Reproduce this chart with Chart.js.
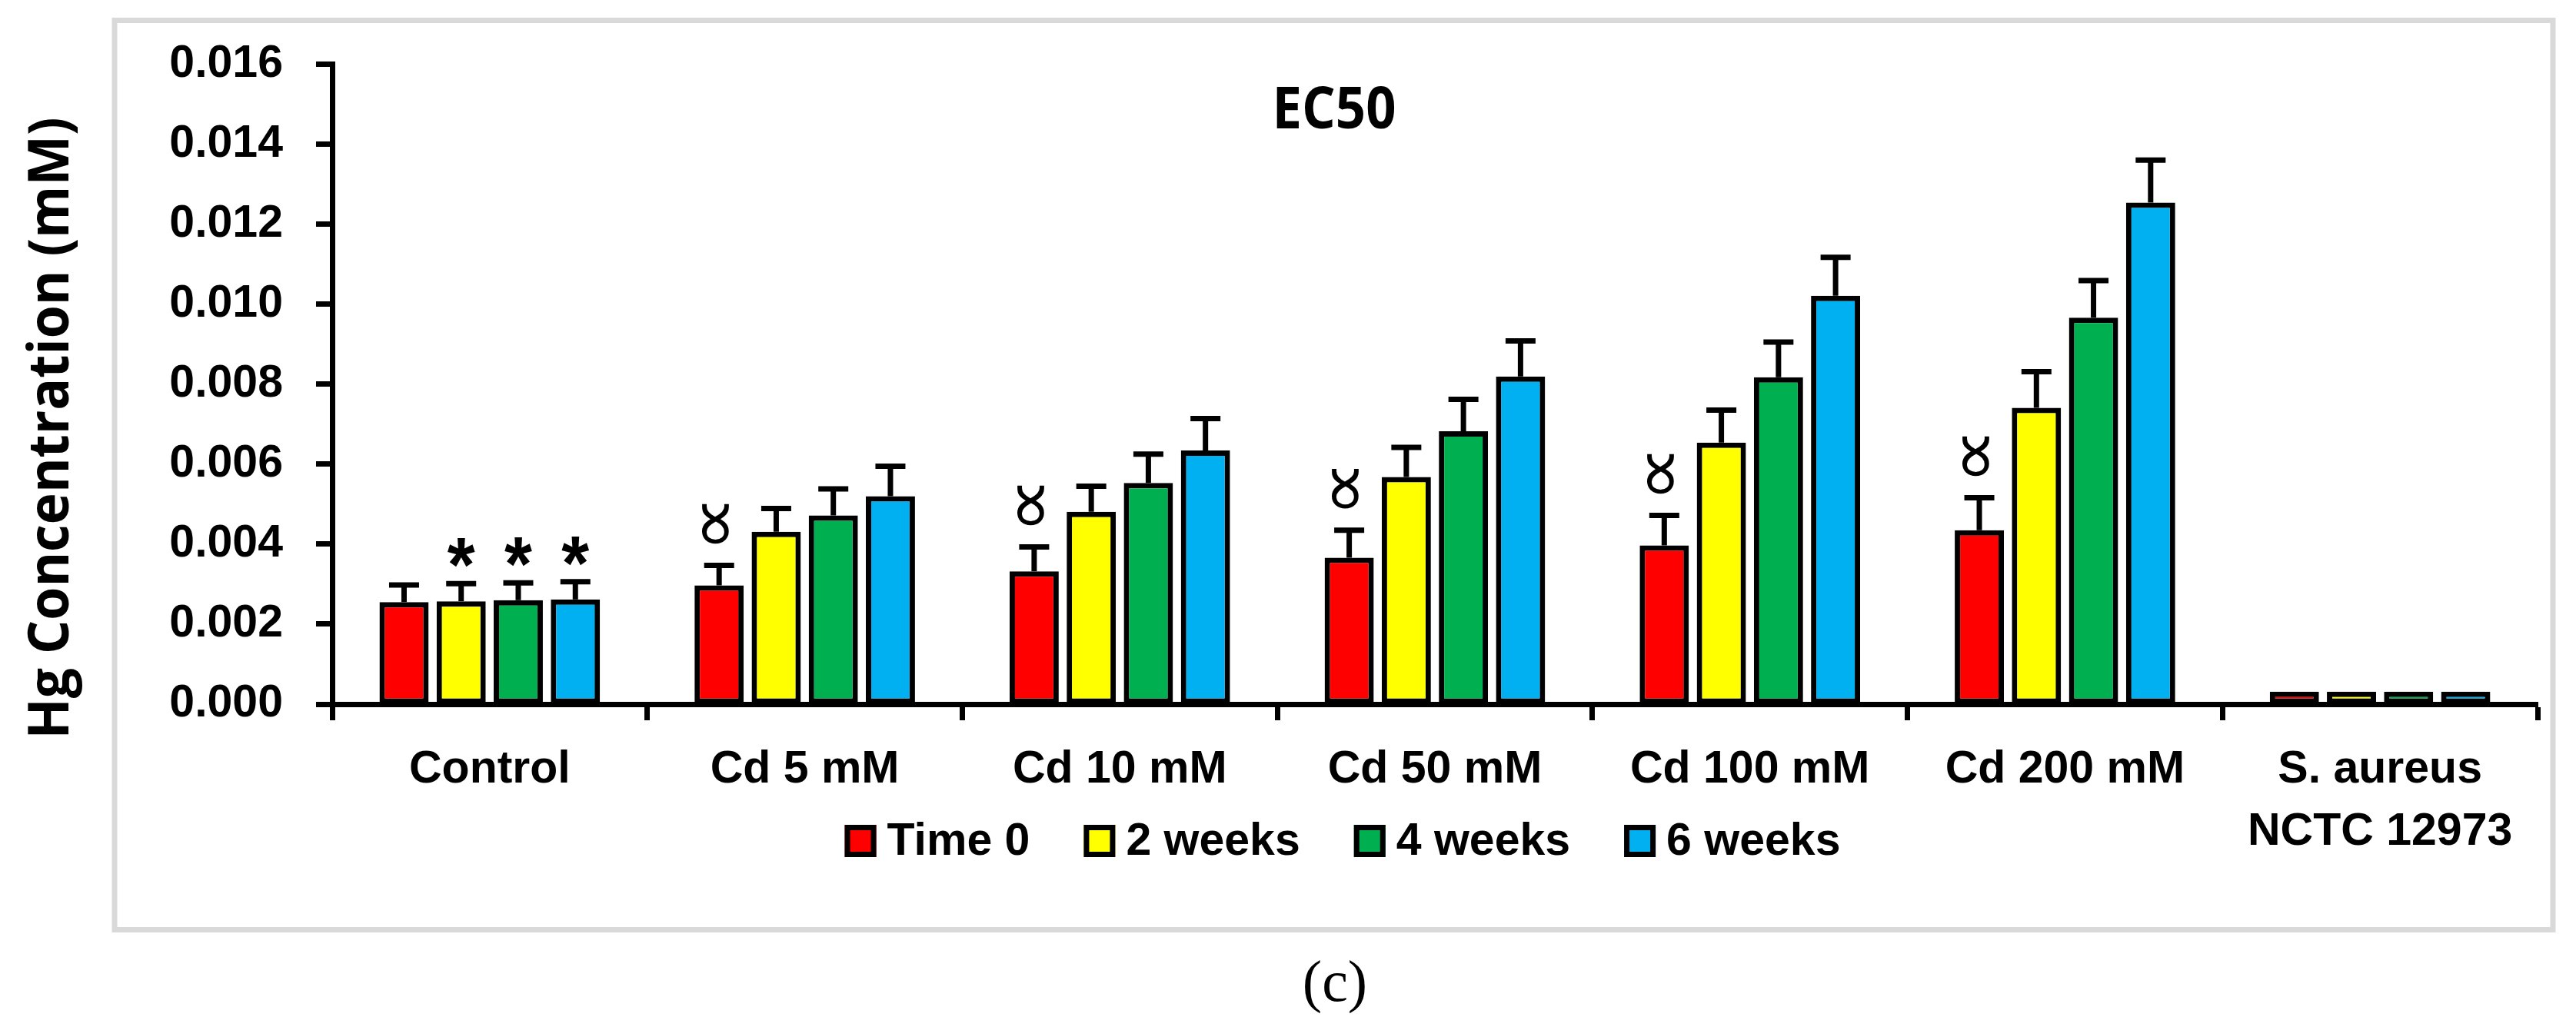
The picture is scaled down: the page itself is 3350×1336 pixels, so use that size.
<!DOCTYPE html>
<html>
<head>
<meta charset="utf-8">
<title>EC50</title>
<script src="https://cdn.jsdelivr.net/npm/chart.js@4.4.1/dist/chart.umd.min.js"></script>
<style>
  html, body { margin: 0; padding: 0; background: #fff; }
  #wrap { width: 3350px; height: 1336px; position: relative; }
</style>
</head>
<body>
<div id="wrap"><canvas id="chart"></canvas></div>
<script>
// values (mM)
const categories = ['Control', 'Cd 5 mM', 'Cd 10 mM', 'Cd 50 mM', 'Cd 100 mM', 'Cd 200 mM', ['S. aureus', 'NCTC 12973']];
const seriesNames = ['Time 0', '2 weeks', '4 weeks', '6 weeks'];
const seriesColors = ['#ff0000', '#ffff00', '#00b050', '#00b0f0'];

const time0 = [0.00255, 0.00297, 0.00332, 0.00366, 0.00397, 0.00435, 0.00031];
const weeks2 = [0.00257, 0.00431, 0.00481, 0.00568, 0.00654, 0.00741, 0.00031];
const weeks4 = [0.00260, 0.00472, 0.00553, 0.00682, 0.00817, 0.00966, 0.00031];
const weeks6 = [0.00262, 0.00520, 0.00634, 0.00819, 0.01021, 0.01254, 0.00031];

// upper error bars
const err0 = [0.00043, 0.00050, 0.00061, 0.00069, 0.00075, 0.00081, 0];
const err2 = [0.00044, 0.00058, 0.00064, 0.00074, 0.00081, 0.00090, 0];
const err4 = [0.00043, 0.00066, 0.00072, 0.00080, 0.00088, 0.00093, 0];
const err6 = [0.00044, 0.00075, 0.00080, 0.00089, 0.00096, 0.00106, 0];

const yTicks = [0, 0.002, 0.004, 0.006, 0.008, 0.010, 0.012, 0.014, 0.016];

// significance marks: [category index, series index]
const starMarks = [[0, 1], [0, 2], [0, 3]];
const propMarks = [[1, 0], [2, 0], [3, 0], [4, 0], [5, 0]];

const values = [time0, weeks2, weeks4, weeks6];
const errors = [err0, err2, err4, err6];

function drawGlyph(ctx, text, font, cx, cy, w, h, angle) {
  ctx.save();
  ctx.font = font;
  const m = ctx.measureText(text);
  const L = m.actualBoundingBoxLeft, R = m.actualBoundingBoxRight;
  const A = m.actualBoundingBoxAscent, D = m.actualBoundingBoxDescent;
  ctx.translate(cx, cy);
  ctx.rotate(angle);
  const sx = (angle ? h : w) / (L + R);
  const sy = (angle ? w : h) / (A + D);
  ctx.scale(sx, sy);
  ctx.textAlign = 'left';
  ctx.textBaseline = 'alphabetic';
  ctx.fillStyle = '#000';
  ctx.fillText(text, (L - R) / 2, (A - D) / 2);
  ctx.restore();
}

const decorations = {
  id: 'decorations',
  beforeDraw(chart) {
    const ctx = chart.ctx;
    ctx.save();
    ctx.strokeStyle = '#d9d9d9';
    ctx.lineWidth = 7;
    ctx.strokeRect(149, 26.5, 3171, 1183);
    ctx.restore();
  },
  afterDatasetsDraw(chart) {
    const ctx = chart.ctx;
    const y = chart.scales.y;
    ctx.save();
    ctx.strokeStyle = '#000';
    ctx.lineWidth = 7;
    chart.data.datasets.forEach((ds, di) => {
      chart.getDatasetMeta(di).data.forEach((bar, i) => {
        const e = errors[di][i];
        if (!e) return;
        const top = y.getPixelForValue(ds.data[i]);
        const end = y.getPixelForValue(ds.data[i] + e);
        ctx.beginPath();
        ctx.moveTo(bar.x, top);
        ctx.lineTo(bar.x, end);
        ctx.moveTo(bar.x - 19.5, end);
        ctx.lineTo(bar.x + 19.5, end);
        ctx.stroke();
      });
    });
    ctx.restore();

    const capPx = (ci, si) => y.getPixelForValue(values[si][ci] + errors[si][ci]);
    starMarks.forEach(([ci, si]) => {
      const bar = chart.getDatasetMeta(si).data[ci];
      drawGlyph(ctx, '*', 'bold 100px "Liberation Sans"', bar.x, capPx(ci, si) - 40, 36, 38, 0);
    });
    propMarks.forEach(([ci, si]) => {
      const bar = chart.getDatasetMeta(si).data[ci];
      drawGlyph(ctx, '\u221D', '70px "DejaVu Sans"', bar.x - 5, capPx(ci, si) - 54, 37, 53, -Math.PI / 2);
    });
  },
  afterDraw(chart) {
    const ctx = chart.ctx;
    ctx.save();
    ctx.fillStyle = '#000';

    // chart title
    ctx.font = 'bold 76px "Open Sans"';
    let m = ctx.measureText('EC50');
    let capH = ctx.measureText('E').actualBoundingBoxAscent;
    ctx.save();
    ctx.translate(1735, 140 + capH / 2);
    ctx.scale(161 / m.width, 1);
    ctx.textAlign = 'center';
    ctx.fillText('EC50', 0, 0);
    ctx.restore();

    // y axis title
    const yTitle = 'Hg Concentration (mM)';
    ctx.font = 'bold 73px "Open Sans"';
    m = ctx.measureText(yTitle);
    capH = ctx.measureText('H').actualBoundingBoxAscent;
    ctx.save();
    ctx.translate(62.5, 557);
    ctx.rotate(-Math.PI / 2);
    ctx.scale(809 / m.width, 1);
    ctx.textAlign = 'center';
    ctx.fillText(yTitle, 0, capH / 2);
    ctx.restore();

    // legend
    ctx.font = 'bold 59px "Liberation Sans"';
    const box = 41, gap = 14, spacing = 70;
    const widths = seriesNames.map(n => ctx.measureText(n).width);
    const total = widths.reduce((a, w) => a + box + gap + w, 0) + spacing * (seriesNames.length - 1);
    let x = 1746 - total / 2;
    const cy = 1094;
    ctx.textAlign = 'left';
    seriesNames.forEach((name, i) => {
      ctx.fillStyle = seriesColors[i];
      ctx.fillRect(x, cy - 21, box, 42);
      ctx.strokeStyle = '#000';
      ctx.lineWidth = 7;
      ctx.strokeRect(x + 3.5, cy - 17.5, box - 7, 35);
      ctx.fillStyle = '#000';
      ctx.fillText(name, x + box + gap, 1112);
      x += box + gap + widths[i] + spacing;
    });

    // panel label
    ctx.font = '76px "Liberation Serif"';
    ctx.textAlign = 'center';
    ctx.fillText('(c)', 1736, 1302);
    ctx.restore();
  }
};

const tickFont = { family: '"Liberation Sans", Arial, sans-serif', weight: 'bold', size: 59, lineHeight: 1.37 };

new Chart(document.getElementById('chart'), {
  type: 'bar',
  data: {
    labels: categories,
    datasets: seriesNames.map((name, i) => ({
      label: name,
      data: values[i],
      backgroundColor: seriesColors[i],
      borderColor: '#000',
      borderWidth: 7,
      borderSkipped: false,
      categoryPercentage: 0.725,
      barPercentage: 0.861
    }))
  },
  options: {
    responsive: true,
    maintainAspectRatio: false,
    devicePixelRatio: 1,
    animation: false,
    layout: { padding: { top: 64, right: 50, left: 0, bottom: 0 } },
    plugins: {
      legend: { display: false },
      tooltip: { enabled: false }
    },
    scales: {
      x: {
        grid: { offset: true, drawOnChartArea: false, drawTicks: true, tickLength: 21, tickWidth: 7, tickColor: '#000' },
        border: { display: true, color: '#000', width: 7 },
        ticks: { color: '#000', font: tickFont, padding: 24, maxRotation: 0, autoSkip: false },
        afterFit(scale) { scale.height = 420; }
      },
      y: {
        min: 0,
        max: 0.016,
        afterBuildTicks(scale) { scale.ticks = yTicks.map(v => ({ value: v })); },
        grid: { drawOnChartArea: false, drawTicks: true, tickLength: 21, tickWidth: 7, tickColor: '#000' },
        border: { display: true, color: '#000', width: 7 },
        ticks: { color: '#000', font: tickFont, padding: 43, callback: v => v.toFixed(3) },
        afterFit(scale) { scale.width = 432; }
      }
    }
  },
  plugins: [decorations]
});
</script>
</body>
</html>
